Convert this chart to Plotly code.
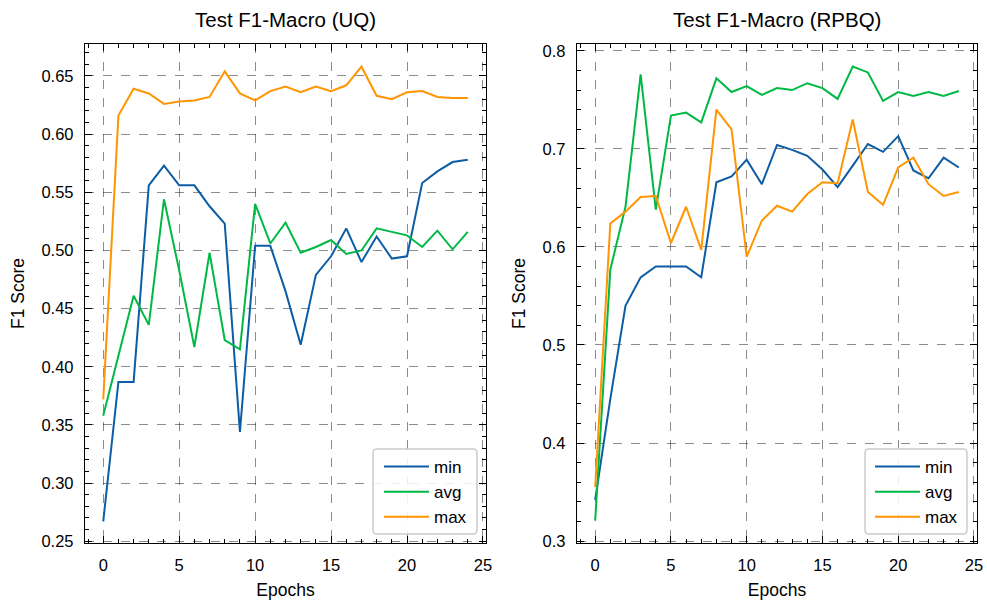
import plotly.graph_objects as go

epochs = list(range(25))

uq_min = [0.267, 0.387, 0.387, 0.556, 0.573, 0.556, 0.556, 0.538, 0.523, 0.344,
          0.504, 0.504, 0.465, 0.419, 0.479, 0.495, 0.519, 0.490, 0.512, 0.493,
          0.495, 0.558, 0.568, 0.576, 0.578]
uq_avg = [0.358, 0.410, 0.461, 0.436, 0.544, 0.483, 0.417, 0.498, 0.423, 0.415,
          0.540, 0.506, 0.524, 0.498, 0.503, 0.509, 0.497, 0.500, 0.519, 0.516,
          0.513, 0.503, 0.517, 0.501, 0.516]
uq_max = [0.372, 0.616, 0.639, 0.635, 0.626, 0.628, 0.629, 0.632, 0.654, 0.635,
          0.629, 0.637, 0.641, 0.636, 0.641, 0.637, 0.642, 0.658, 0.633, 0.630,
          0.636, 0.637, 0.632, 0.631, 0.631]

rp_min = [0.342, 0.445, 0.540, 0.569, 0.580, 0.580, 0.580, 0.569, 0.666, 0.672,
          0.689, 0.664, 0.704, 0.699, 0.693, 0.679, 0.661, 0.683, 0.705, 0.697,
          0.713, 0.678, 0.670, 0.691, 0.681]
rp_avg = [0.321, 0.577, 0.641, 0.776, 0.638, 0.734, 0.737, 0.727, 0.772, 0.758,
          0.764, 0.755, 0.762, 0.760, 0.767, 0.762, 0.751, 0.784, 0.778, 0.749,
          0.758, 0.754, 0.758, 0.754, 0.759]
rp_max = [0.355, 0.624, 0.636, 0.651, 0.652, 0.604, 0.641, 0.597, 0.740, 0.720,
          0.590, 0.627, 0.642, 0.636, 0.654, 0.666, 0.665, 0.730, 0.656, 0.643,
          0.681, 0.691, 0.664, 0.652, 0.656]

series_names = ["min", "avg", "max"]
colors = ["#0C5DA5", "#00B945", "#FF9500"]
titles = ["Test F1-Macro (UQ)", "Test F1-Macro (RPBQ)"]

W, H = 987, 600
FONT = "Liberation Sans, Arial, sans-serif"

fig = go.Figure()

for k, (ys, legend) in enumerate([((uq_min, uq_avg, uq_max), "legend"),
                                  ((rp_min, rp_avg, rp_max), "legend2")]):
    xa = "x" if k == 0 else "x2"
    ya = "y" if k == 0 else "y2"
    for name, vals, col in zip(series_names, ys, colors):
        fig.add_trace(go.Scatter(x=epochs, y=vals, mode="lines", name=name,
                                 line=dict(color=col, width=2),
                                 xaxis=xa, yaxis=ya, legend=legend))

# pixel geometry
axL = (85, 486)
axR = (577, 977)
top, bot = 44, 543
ydom = [1 - bot / H, 1 - top / H]

common_axis = dict(
    showline=True, linecolor="black", linewidth=1.3, mirror="allticks",
    ticks="inside", ticklen=7, tickwidth=1.2, tickcolor="black",
    showgrid=True, gridcolor="rgba(0,0,0,0.45)", griddash="dash", gridwidth=1,
    zeroline=False, tickfont=dict(family=FONT, size=16.5, color="black"),
    ticklabelstandoff=7, automargin=False,
)

minor_common = dict(ticks="inside", ticklen=4, tickwidth=1, tickcolor="black", showgrid=False)

fig.update_layout(
    width=W, height=H, margin=dict(l=0, r=0, t=0, b=0),
    paper_bgcolor="white", plot_bgcolor="white",
    font=dict(family=FONT, color="black"),
    xaxis=dict(domain=[axL[0] / W, axL[1] / W], anchor="y", range=[-1.2, 25.2],
               dtick=5, tick0=0, minor=dict(dtick=1, **minor_common),
               title=dict(text="Epochs", font=dict(family=FONT, size=17.5), standoff=12),
               **common_axis),
    yaxis=dict(domain=ydom, anchor="x", range=[0.2485, 0.6775], dtick=0.05, tick0=0,
               tickformat=".2f", minor=dict(dtick=0.01, **minor_common),
               title=dict(text="F1 Score", font=dict(family=FONT, size=17.5), standoff=12),
               **common_axis),
    xaxis2=dict(domain=[axR[0] / W, axR[1] / W], anchor="y2", range=[-1.2, 25.2],
                dtick=5, tick0=0, minor=dict(dtick=1, **minor_common),
                title=dict(text="Epochs", font=dict(family=FONT, size=17.5), standoff=12),
                **common_axis),
    yaxis2=dict(domain=ydom, anchor="x2", range=[0.298, 0.807], dtick=0.1, tick0=0,
                tickformat=".1f", minor=dict(dtick=0.02, **minor_common),
                title=dict(text="F1 Score", font=dict(family=FONT, size=17.5), standoff=12),
                **common_axis),
    legend=dict(x=472 / W, y=1 - 535 / H, xanchor="right", yanchor="bottom",
                bgcolor="rgba(0,0,0,0)", borderwidth=0,
                font=dict(family=FONT, size=17, color="black"), itemwidth=45),
    legend2=dict(x=963 / W, y=1 - 535 / H, xanchor="right", yanchor="bottom",
                 bgcolor="rgba(0,0,0,0)", borderwidth=0,
                 font=dict(family=FONT, size=17, color="black"), itemwidth=45),
)

# subplot titles
for (a, b), t in zip([axL, axR], titles):
    fig.add_annotation(text=t, x=(a + b) / 2 / W, y=1 - 20 / H, xref="paper", yref="paper",
                       showarrow=False, xanchor="center", yanchor="middle",
                       font=dict(family=FONT, size=20.5, color="black"))


# rounded legend frames
def rounded_rect(x0, y0, x1, y1, r):
    X = lambda v: v / W
    Y = lambda v: 1 - v / H
    rx, ry = r / W, r / H
    return (f"M {X(x0)+rx},{Y(y0)} L {X(x1)-rx},{Y(y0)} Q {X(x1)},{Y(y0)} {X(x1)},{Y(y0)-ry} "
            f"L {X(x1)},{Y(y1)+ry} Q {X(x1)},{Y(y1)} {X(x1)-rx},{Y(y1)} "
            f"L {X(x0)+rx},{Y(y1)} Q {X(x0)},{Y(y1)} {X(x0)},{Y(y1)+ry} "
            f"L {X(x0)},{Y(y0)-ry} Q {X(x0)},{Y(y0)} {X(x0)+rx},{Y(y0)} Z")


for (x0, x1) in [(373, 477), (865, 967)]:
    fig.add_shape(type="path", path=rounded_rect(x0, 449, x1, 534, 4),
                  xref="paper", yref="paper", fillcolor="rgba(255,255,255,0.85)",
                  line=dict(color="#cccccc", width=1.5), layer="above")

fig.write_html("out.html")
